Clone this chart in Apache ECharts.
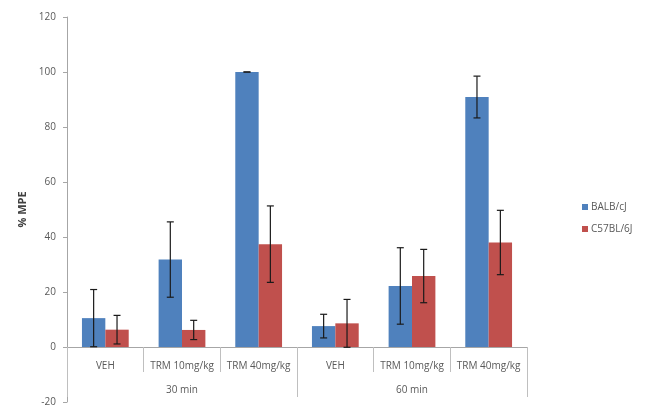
<!DOCTYPE html>
<html>
<head>
<meta charset="utf-8">
<script src="https://cdn.jsdelivr.net/npm/echarts@6/dist/echarts.min.js"></script>
<style>html,body{margin:0;padding:0;background:#fff}#c{width:650px;height:409px}</style>
</head>
<body>
<div id="c"></div>
<script>
var categories = ['VEH', 'TRM 10mg/kg', 'TRM 40mg/kg', 'VEH', 'TRM 10mg/kg', 'TRM 40mg/kg'];
var groups = ['30 min', '60 min'];
var seriesNames = ['BALB/cJ', 'C57BL/6J'];
var balbValues = [10.5, 31.8, 100, 7.6, 22.2, 90.9];
var balbErrors = [10.4, 13.7, 0, 4.3, 13.9, 7.6];
var c57Values = [6.3, 6.2, 37.4, 8.6, 25.8, 38.0];
var c57Errors = [5.2, 3.5, 13.9, 8.7, 9.7, 11.7];
var yTicks = [-20, 0, 20, 40, 60, 80, 100, 120];

var colors = ['#4F81BD', '#C0504D'];
var chart = echarts.init(document.getElementById('c'));

function errorSeries(values, errors, side) {
  var data = values.map(function (v, i) { return [i, v, errors[i]]; });
  return {
    type: 'custom',
    xAxisIndex: 0,
    yAxisIndex: 0,
    silent: true,
    z: 10,
    renderItem: function (params, api) {
      var i = api.value(0), v = api.value(1), e = api.value(2);
      var band = api.size([1, 0])[0];
      var cx = api.coord([i, v])[0] + side * 0.1525 * band;
      var top = api.coord([i, v + e])[1];
      var bot = api.coord([i, v - e])[1];
      var cap = 3.5;
      var st = { stroke: '#1a1a1a', lineWidth: 1.2 };
      return {
        type: 'group',
        children: [
          { type: 'line', shape: { x1: cx, y1: top, x2: cx, y2: bot }, style: st },
          { type: 'line', shape: { x1: cx - cap, y1: top, x2: cx + cap, y2: top }, style: st },
          { type: 'line', shape: { x1: cx - cap, y1: bot, x2: cx + cap, y2: bot }, style: st }
        ]
      };
    },
    data: data
  };
}

var option = {
  animation: false,
  backgroundColor: '#fff',
  textStyle: { fontFamily: 'Open Sans, Liberation Sans, sans-serif' },
  legend: {
    orient: 'vertical',
    left: 577,
    top: 197,
    itemWidth: 6,
    itemHeight: 6,
    itemGap: 12,
    icon: 'rect',
    data: seriesNames,
    textStyle: { color: '#595959', fontSize: 10, padding: [0, 0, 0, -2] }
  },
  grid: { left: 67, right: 123, top: 17, bottom: 7, containLabel: false, outerBoundsMode: 'none' },
  xAxis: [
    {
      type: 'category',
      data: categories,
      position: 'bottom',
      offset: -55,
      axisLine: { onZero: false, lineStyle: { color: '#a6a6a6' } },
      axisTick: { show: true, length: 25, alignWithLabel: false, lineStyle: { color: '#bfbfbf' } },
      axisLabel: { color: '#595959', fontSize: 10, margin: 14, interval: 0 },
      splitLine: { show: false }
    },
    {
      type: 'category',
      data: groups,
      position: 'bottom',
      offset: -55,
      axisLine: { show: false, onZero: false },
      axisTick: { show: true, length: 50, lineStyle: { color: '#bfbfbf' } },
      axisLabel: { color: '#595959', fontSize: 10, margin: 38 },
      splitLine: { show: false }
    }
  ],
  yAxis: {
    type: 'value',
    min: -20,
    max: 120,
    interval: 20,
    name: '% MPE',
    nameLocation: 'middle',
    nameRotate: 90,
    nameGap: 27,
    nameTextStyle: { color: '#404040', fontSize: 11, fontWeight: 'bold' },
    axisLine: { show: true, lineStyle: { color: '#a6a6a6' } },
    axisTick: { show: true, length: 4, lineStyle: { color: '#a6a6a6' } },
    axisLabel: {
      color: '#595959', fontSize: 10, margin: 11,
      formatter: function (v) { return yTicks.indexOf(v) >= 0 ? String(v) : ''; }
    },
    splitLine: { show: false }
  },
  series: [
    {
      name: seriesNames[0], type: 'bar', data: balbValues,
      itemStyle: { color: colors[0] }, barGap: '0%', barCategoryGap: '39%'
    },
    {
      name: seriesNames[1], type: 'bar', data: c57Values,
      itemStyle: { color: colors[1] }, barGap: '0%', barCategoryGap: '39%'
    },
    errorSeries(balbValues, balbErrors, -1),
    errorSeries(c57Values, c57Errors, 1)
  ]
};
chart.setOption(option);
</script>
</body>
</html>
